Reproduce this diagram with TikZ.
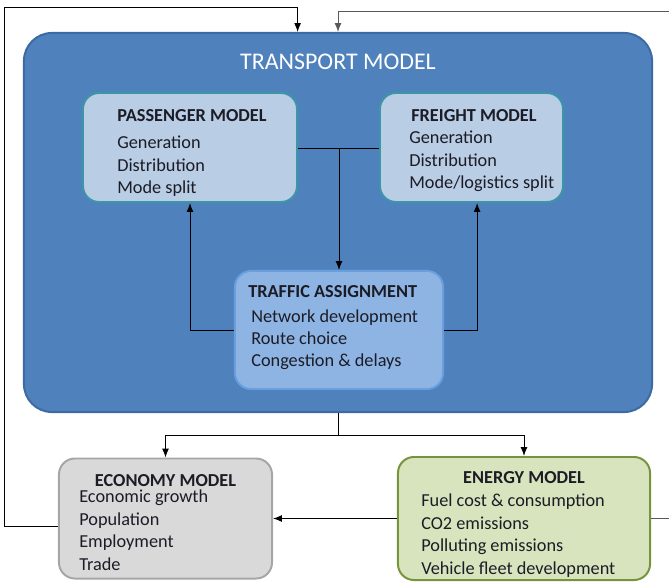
\documentclass[tikz,border=0pt]{standalone}
\usepackage{fontspec}
\setmainfont{Carlito}
\usetikzlibrary{arrows.meta}
\definecolor{TRF}{HTML}{4F81BD}
\definecolor{TRD}{HTML}{3C6AA3}
\definecolor{PAF}{HTML}{B9CDE5}
\definecolor{PAD}{HTML}{3D96A8}
\definecolor{TAF}{HTML}{8EB4E3}
\definecolor{TAD}{HTML}{6A9FDD}
\definecolor{ECF}{HTML}{D9D9D9}
\definecolor{ECD}{HTML}{A6A6A6}
\definecolor{ENF}{HTML}{D7E4BD}
\definecolor{END}{HTML}{77933C}
\definecolor{TXT}{HTML}{1C1C26}
\tikzset{
    BIG/.style ={rectangle, rounded corners=0.7cm, line width=1.4pt, draw=TRD, fill=TRF},
    RA1/.style ={rectangle, rounded corners=0.4cm, line width=1.4pt, draw=PAD, fill=PAF, minimum height=2.725cm},
    RA2/.style ={rectangle, rounded corners=0.4cm, line width=1.4pt, draw=TAD, fill=TAF},
    RA3/.style ={rectangle, rounded corners=0.4cm, line width=1.4pt, minimum height=3cm},
    TI/.style ={font=\fontsize{13}{16}\selectfont\bfseries, text=TXT, inner sep=0pt},
    IT/.style ={font=\fontsize{13}{16}\selectfont, text=TXT, inner sep=0pt, align=left, anchor=base west},
    AR/.style ={-{Latex[length=2.2mm,width=1.7mm]}, line width=0.7pt}}
\begin{document}
\begin{tikzpicture}[x=0.025cm, y=-0.025cm]
        \useasboundingbox (0,0) rectangle (669,582);
        \node[BIG, minimum width=15.7cm, minimum height=9.475cm] (T) at (338,222.5){};
        \node[font=\fontsize{17}{20}\selectfont, text=white, inner sep=0pt, anchor=base] (Tt) at (338,70){TRANSPORT MODEL};
        \node[RA1, minimum width=5.35cm] (P) at (190,147.5){};
        \node[RA1, minimum width=4.575cm] (F) at (471.5,147.5){};
        \node[RA2, minimum width=5.2cm, minimum height=2.95cm] (A) at (339,330){};
        \node[RA3, draw=ECD, fill=ECF, minimum width=5.325cm] (EC) at (165.5,518.5){};
        \node[RA3, draw=END, fill=ENF, minimum width=6.3cm, minimum height=3.075cm] (EN) at (524,518.5){};
        % item nodes sit on the baseline of their last line
        \node[TI, anchor=base west] (Pt) at (117,122){PASSENGER MODEL};
        \node[IT] (Pi) at (117,194){Generation\\Distribution\\Mode split};
        \node[TI, anchor=base west] (Ft) at (411,122){FREIGHT MODEL};
        \node[IT] (Fi) at (409,189){Generation\\Distribution\\Mode/logistics split};
        \node[TI, anchor=base west] (At) at (248,298){TRAFFIC ASSIGNMENT};
        \node[IT] (Ai) at (251,367){Network development\\Route choice\\Congestion \& delays};
        \node[TI, anchor=base] (ECt) at (165.5,486){ECONOMY MODEL};
        \node[IT] (ECi) at (79,570){Economic growth\\Population\\Employment\\Trade};
        \node[TI, anchor=base] (ENt) at (524,483){ENERGY MODEL};
        \node[IT] (ENi) at (421,574){Fuel cost \& consumption\\CO2 emissions\\Polluting emissions\\Vehicle fleet development};
        \coordinate (J1) at (339,148);
        \coordinate (J2) at (338,435);
        \coordinate (LL) at (4,7.5);
        \coordinate (LR) at (672,11);
        \draw[line width=0.7pt] (P.east |- J1) -- (F.west |- J1);
        \draw[AR] (J1) -- (A.north);
        \draw[AR] (A.west) -| (P.south);
        \draw[AR] (A.east) -| ([xshift=0.14cm]F.south);
        \draw[line width=0.7pt] (T.south) -- (J2);
        \draw[AR] (J2) -| (EC.north);
        \draw[AR] (J2) -| (EN.north);
        \draw[AR] (EN.west) -- (EN.west -| EC.east);
        \draw[AR] ([yshift=-0.21cm]EC.west) -| (LL) -| ([xshift=-1.01cm]T.north);
        \draw[AR, draw=gray!70!black] (EN.east) -| (LR) -| (T.north);
    \end{tikzpicture}
\end{document}
